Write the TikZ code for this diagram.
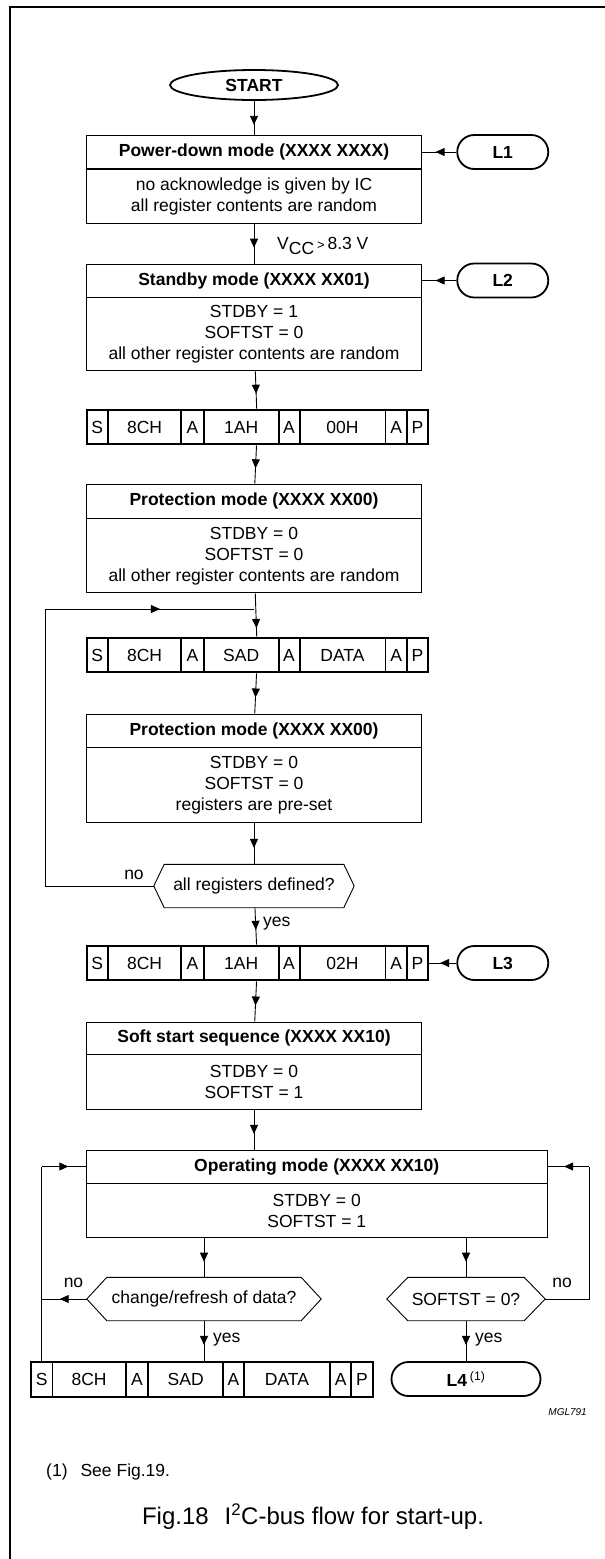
\documentclass[tikz,border=0pt]{standalone}
\usepackage{fontspec}
\setmainfont{Liberation Sans}
\usetikzlibrary{arrows.meta,shapes,positioning,fit,decorations.markings}

\newcommand{\seqrow}[4]{%
  \node[cell,minimum width=20.5pt,anchor=west] (#1-1) at (#2) {S};
  \node[cell,minimum width=72.5pt,right=0pt of #1-1] (#1-2) {8CH};
  \node[cell,minimum width=21.5pt,right=0pt of #1-2] (#1-3) {A};
  \node[cell,minimum width=74pt,right=0pt of #1-3] (#1-4) {#3};
  \node[cell,minimum width=20pt,right=0pt of #1-4] (#1-5) {A};
  \node[cell,minimum width=85pt,right=0pt of #1-5] (#1-6) {#4};
  \node[cell,minimum width=20.5pt,right=0pt of #1-6] (#1-7) {A};
  \node[cell,minimum width=20.5pt,right=0pt of #1-7] (#1-8) {P};
  \node[seqbox,fit=(#1-1)(#1-8)] (#1) {};}
\newcommand{\hexout}[2]{%
  \draw[thinln] (#1.west) -- ([xshift=#2]#1.north west) -- ([xshift=-#2]#1.north east)
    -- (#1.east) -- ([xshift=-#2]#1.south east) -- ([xshift=#2]#1.south west) -- cycle;}

\begin{document}
\begin{tikzpicture}[x=1pt,y=-1pt,
  every node/.style={inner sep=0pt,font=\fontsize{17.5}{21}\selectfont},
  thinln/.style={line width=0.9pt},
  midarr/.style={postaction={decorate,decoration={markings,
    mark=at position #1 with {\arrow{Triangle[length=9pt,width=8pt]}}}}},
  fl/.style={thinln,midarr=#1}, fl/.default=0.6,
  ttl/.style={draw,thinln,minimum width=334.5pt,minimum height=33pt,
    font=\fontsize{17.5}{21}\selectfont\bfseries},
  bdy/.style={draw,thinln,minimum width=334.5pt,align=center},
  term/.style={draw,line width=1.8pt,rounded corners=17pt,minimum width=91pt,
    minimum height=34pt,font=\fontsize{17.5}{21}\selectfont\bfseries},
  startnd/.style={draw,ellipse,line width=1.8pt,minimum width=168pt,minimum height=30pt,
    font=\fontsize{17.5}{21}\selectfont\bfseries},
  cell/.style={draw,thinln,minimum height=34pt},
  seqbox/.style={draw,line width=2pt},
  dec/.style={minimum height=43pt}]
\useasboundingbox (0,0) rectangle (605,1559);
\draw[line width=1.5pt] (10,1559) -- (10,7) -- (605,7);

\node[startnd] (start) at (254,85) {START};

\node[ttl] (pd) at (254,152) {Power-down mode (XXXX XXXX)};
\node[bdy,minimum height=54pt,below=0pt of pd] (pdb) {no acknowledge is given by IC\\all register contents are random};
\node[term] (l1) at (502.75,152) {L1};

\node[ttl] (sb) at (254,280.5) {Standby mode (XXXX XX01)};
\node[bdy,minimum height=73pt,below=0pt of sb] (sbb) {STDBY = 1\\SOFTST = 0\\all other register contents are random};
\node[term] (l2) at (502.75,280.5) {L2};

\seqrow{sq1}{86.5,427}{1AH}{00H}

\node[ttl,minimum height=34pt] (pa) at (254,501) {Protection mode (XXXX XX00)};
\node[bdy,minimum height=74pt,below=0pt of pa] (pab) {STDBY = 0\\SOFTST = 0\\all other register contents are random};

\coordinate (lp1) at (254,609);
\coordinate (lp2) at (45,609);

\seqrow{sq2}{86.5,655}{SAD}{DATA}

\node[ttl] (pb) at (254,730.5) {Protection mode (XXXX XX00)};
\node[bdy,minimum height=75pt,below=0pt of pb] (pbb) {STDBY = 0\\SOFTST = 0\\registers are pre-set};

\node[dec,minimum width=200pt] (qa) at (254,886) {all registers defined?};
\hexout{qa}{10.4pt}

\seqrow{sq3}{86.5,963}{1AH}{02H}
\node[term] (l3) at (502.75,963) {L3};

\node[ttl,minimum height=32pt] (ss) at (254,1038) {Soft start sequence (XXXX XX10)};
\node[bdy,minimum height=55pt,below=0pt of ss] (ssb) {STDBY = 0\\SOFTST = 1};

\node[ttl,minimum width=460.5pt] (op) at (316.75,1166.5) {Operating mode (XXXX XX10)};
\node[bdy,minimum width=460.5pt,minimum height=54pt,below=0pt of op] (opb) {STDBY = 0\\SOFTST = 1};

\node[dec,minimum width=234pt] (qb) at (204,1299) {change/refresh of data?};
\hexout{qb}{20pt}
\node[dec,minimum width=158pt] (qc) at (466,1299) {SOFTST = 0?};
\hexout{qc}{21pt}
\coordinate (rc) at (589,1299);

\seqrow{sq4}{31,1379.5}{SAD}{DATA}
\node[term,minimum width=149pt] (l4) at (466,1379) {L4\,\textsuperscript{\mdseries(1)}};

\draw[fl=0.7] (start) -- (pd);
\draw[fl] (pdb) -- (sb);
\node[anchor=west] (vcc) at (277,246) {V\raisebox{-5pt}{CC}\,{\fontsize{13}{13}\selectfont >}\,8.3 V};
\draw[fl] (l1) -- (pd);
\draw[fl] (l2) -- (sb);
\draw[fl] (sbb) -- (sq1);
\draw[fl] (sq1) -- (pa);
\draw[fl=0.8] (pab) -- (sq2);
\draw[fl] (sq2) -- (pb);
\draw[fl] (pbb) -- (qa);
\draw[thinln] (qa.west) -| (lp2);
\draw[fl=0.55] (lp2) -- (lp1);
\node (no1) at (134,875) {no};
\draw[fl] (qa) -- (sq3);
\node[anchor=west] (yes1) at (263,924) {yes};
\draw[fl] (l3) -- (sq3);
\draw[fl] (sq3) -- (ss);
\draw[fl] (ssb.south) -- (ssb.south |- op.north);
\draw[fl] (opb.south -| qb.north) -- (qb.north);
\draw[fl] (opb.south -| qc.north) -- (qc.north);
\draw[fl] (qb.south) -- (qb.south |- sq4.north);
\node[anchor=west] (yes2) at (213,1340) {yes};
\draw[fl] (qc.south) -- (l4.north);
\node[anchor=west] (yes3) at (475,1340) {yes};
\draw[thinln] (sq4-1.north) -- (sq4-1.north |- op.west);
\draw[fl] (sq4-1.north |- op.west) -- (op.west);
\draw[fl] (qb.west) -- (qb.west -| sq4-1.north);
\node (no2) at (73.5,1283) {no};
\draw[thinln] (qc.east) -- (rc) -- (rc |- op.east);
\draw[fl] (rc |- op.east) -- (op.east);
\node (no3) at (562,1283) {no};

\node[anchor=east,font=\fontsize{10}{12}\selectfont\itshape] (mgl) at (587,1412) {MGL791};
\node[anchor=west] (fn) at (46,1472) {(1)\hspace{13pt}See Fig.19.};
\node[font=\fontsize{24}{28}\selectfont] (cap) at (313,1517) {Fig.18\hspace{16pt}I\textsuperscript{2}C-bus flow for start-up.};
\end{tikzpicture}
\end{document}
